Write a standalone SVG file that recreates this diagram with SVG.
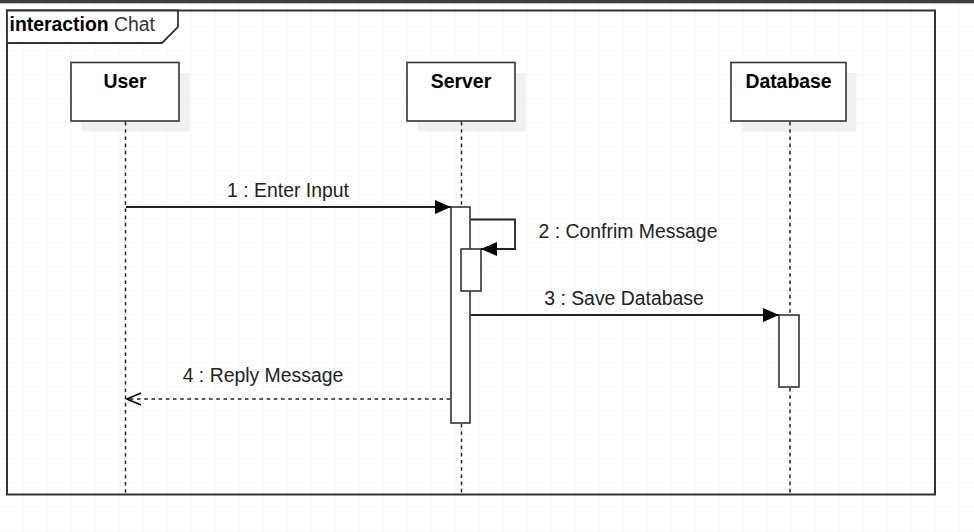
<svg xmlns="http://www.w3.org/2000/svg" width="974" height="532" viewBox="0 0 974 532">
<defs>
<pattern id="grid" x="-0.5" y="3.5" width="24" height="24" patternUnits="userSpaceOnUse">
<path d="M24 0V24M0 24H24" fill="none" stroke="#ececec" stroke-width="1"/>
</pattern>
<marker id="block" viewBox="0 0 16 14" refX="16" refY="7" markerWidth="16" markerHeight="14" markerUnits="userSpaceOnUse" orient="auto">
<path d="M0 0L16 7L0 14Z" fill="#000"/>
</marker>
<marker id="open" viewBox="0 0 16 14" refX="15" refY="7" markerWidth="16" markerHeight="14" markerUnits="userSpaceOnUse" orient="auto">
<path d="M1 1L15 7L1 13" fill="none" stroke="#000" stroke-width="1.5"/>
</marker>
</defs>
<style>
.lbl{font-family:"Liberation Sans",Arial,sans-serif;font-size:19.4px;fill:#222}
.name{font-family:"Liberation Sans",Arial,sans-serif;font-size:19.4px;font-weight:bold;fill:#000;text-anchor:middle}
.box{fill:#fff;stroke:#333;stroke-width:1.6}
.shadow{fill:#f0f0f0}
.life{stroke:#222;stroke-width:1.5;stroke-dasharray:3.6 3.6;fill:none}
.msg{stroke:#222;stroke-width:1.8;fill:none}
.act{fill:#fff;stroke:#333;stroke-width:1.6}
</style>
<rect width="974" height="532" fill="#fff"/>
<rect width="974" height="532" fill="url(#grid)"/>
<rect x="0" y="0" width="974" height="3.3" fill="#3b4045"/>

<g id="frame">
<rect x="7" y="10.5" width="928" height="484" fill="none" stroke="#333" stroke-width="2"/>
<path d="M7 10.5H178V27L162 43H7Z" fill="#fff" stroke="#333" stroke-width="1.8"/>
<text x="9.5" y="31" class="lbl" style="fill:#000"><tspan font-weight="bold">interaction</tspan><tspan fill="#333"> Chat</tspan></text>
</g>

<g id="user">
<rect class="shadow" x="81.5" y="73" width="108" height="58.5"/>
<rect class="box" x="71" y="62.5" width="108" height="58.5"/>
<text class="name" x="125" y="88">User</text>
</g>

<g id="server">
<rect class="shadow" x="417.5" y="73" width="108" height="58.5"/>
<rect class="box" x="407" y="62.5" width="108" height="58.5"/>
<text class="name" x="461" y="88">Server</text>
<rect class="act" x="451" y="207" width="19" height="216"/>
<rect class="act" x="461" y="249" width="20" height="42"/>
</g>

<g id="database">
<rect class="shadow" x="741.5" y="73" width="115" height="58.5"/>
<rect class="box" x="731" y="62.5" width="115" height="58.5"/>
<text class="name" x="788.5" y="88">Database</text>
<rect class="act" x="779" y="315" width="20" height="72"/>
</g>

<g id="connectors">
<line class="life" x1="125.5" y1="122" x2="125.5" y2="494"/>
<line class="life" x1="461.5" y1="122" x2="461.5" y2="206"/>
<line class="life" x1="461.5" y1="424" x2="461.5" y2="494"/>
<line class="life" x1="790" y1="122" x2="790" y2="314"/>
<line class="life" x1="790" y1="388" x2="790" y2="494"/>
<line class="msg" x1="126" y1="207" x2="451" y2="207" marker-end="url(#block)"/>
<path class="msg" d="M470.8 219.5H515V249H481" marker-end="url(#block)"/>
<line class="msg" x1="470.8" y1="315" x2="779" y2="315" marker-end="url(#block)"/>
<line class="life" x1="450.2" y1="399" x2="127" y2="399" marker-end="url(#open)"/>
<text class="lbl" x="288" y="197" text-anchor="middle">1 : Enter Input</text>
<text class="lbl" x="628" y="238" text-anchor="middle">2 : Confrim Message</text>
<text class="lbl" x="624" y="305" text-anchor="middle">3 : Save Database</text>
<text class="lbl" x="263" y="382" text-anchor="middle">4 : Reply Message</text>
</g>
</svg>
